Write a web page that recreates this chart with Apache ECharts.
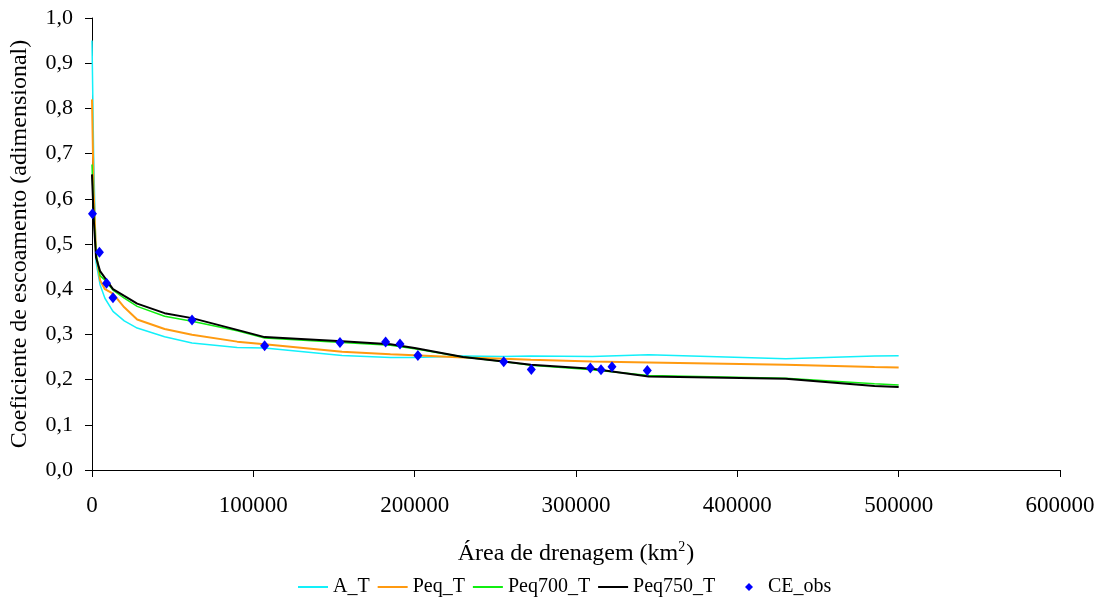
<!DOCTYPE html>
<html>
<head>
<meta charset="utf-8">
<script src="https://cdn.jsdelivr.net/npm/echarts@6/dist/echarts.min.js"></script>
<style>html,body{margin:0;padding:0;background:#fff}#c{width:1104px;height:599px}</style>
</head>
<body>
<div id="c"></div>
<script>
var xArea = [0, 1000, 2500, 5000, 8000, 13000, 20000, 28000, 45000, 62000, 90000, 107000, 155000, 185000, 200000, 230000, 255000, 272000, 310000, 345000, 430000, 485000, 500000];
var A_T =      [0.95, 0.70, 0.46, 0.41, 0.38, 0.351, 0.33, 0.314, 0.295, 0.281, 0.271, 0.270, 0.2535, 0.249, 0.249, 0.252, 0.251, 0.252, 0.251, 0.255, 0.246, 0.252, 0.253];
var Peq_T =    [0.82, 0.62, 0.48, 0.42, 0.40, 0.39, 0.36, 0.333, 0.312, 0.299, 0.284, 0.278, 0.2615, 0.256, 0.254, 0.249, 0.246, 0.244, 0.240, 0.238, 0.233, 0.228, 0.227];
var Peq700_T = [0.676, 0.57, 0.48, 0.43, 0.42, 0.398, 0.38, 0.362, 0.34, 0.329, 0.308, 0.292, 0.282, 0.276, 0.268, 0.250, 0.240, 0.232, 0.222, 0.209, 0.203, 0.191, 0.188];
var Peq750_T = [0.654, 0.56, 0.47, 0.44, 0.425, 0.40, 0.385, 0.368, 0.347, 0.336, 0.31, 0.294, 0.285, 0.278, 0.270, 0.250, 0.240, 0.233, 0.224, 0.207, 0.202, 0.186, 0.1835];
var obsArea = [300, 4600, 9000, 13000, 62000, 107000, 153700, 182000, 190900, 202000, 255200, 272300, 308900, 315500, 322300, 344200];
var CE_obs =  [0.567, 0.482, 0.413, 0.381, 0.332, 0.275, 0.282, 0.283, 0.279, 0.2535, 0.2396, 0.2226, 0.2255, 0.222, 0.2285, 0.2204];
var yTicks = ['0,0','0,1','0,2','0,3','0,4','0,5','0,6','0,7','0,8','0,9','1,0'];

function pairs(xs, ys){ return xs.map(function(x,i){ return [x, ys[i]]; }); }
var font = '"Liberation Serif", "Times New Roman", serif';
var chart = echarts.init(document.getElementById('c'));
function lineSeries(name, ys, color, w){
  return { name: name, type: 'line', data: pairs(xArea, ys), symbol: 'none', showSymbol: false,
    lineStyle: { color: color, width: w }, itemStyle: { color: color }, z: 2 };
}
chart.setOption({
  animation: false,
  textStyle: { fontFamily: font, color: '#000' },
  grid: { left: 92, right: 44, top: 18, bottom: 129 },
  legend: [
    { data: ['A_T','Peq_T','Peq700_T','Peq750_T'], icon: 'rect', left: 293, top: 572, itemWidth: 30, itemHeight: 2, itemGap: 8,
      textStyle: { fontFamily: font, fontSize: 20, color: '#000' } },
    { data: ['CE_obs'], left: 740, top: 572, itemWidth: 8, itemHeight: 8,
      textStyle: { fontFamily: font, fontSize: 20, color: '#000', padding: [0,0,0,10] } }
  ],
  xAxis: {
    type: 'value', min: 0, max: 600000, interval: 100000,
    name: '{n|Área de drenagem (km}{s|2}{n|)}', nameLocation: 'middle', nameGap: 70,
    nameTextStyle: { rich: {
      n: { fontFamily: font, fontSize: 24, color: '#000', lineHeight: 26, verticalAlign: 'bottom' },
      s: { fontFamily: font, fontSize: 14, color: '#000', lineHeight: 26, verticalAlign: 'top', padding: [0,1,12,0] } } },
    axisLine: { lineStyle: { color: '#000', width: 1 } },
    axisTick: { show: true, inside: false, length: 7, lineStyle: { color: '#000' } },
    axisLabel: { fontFamily: font, fontSize: 23, color: '#000', margin: 24,
      formatter: function(v){ return String(v); } },
    splitLine: { show: false }
  },
  yAxis: {
    type: 'value', min: 0, max: 1, interval: 0.1,
    name: 'Coeficiente de escoamento (adimensional)', nameLocation: 'middle', nameGap: 60,
    nameTextStyle: { fontFamily: font, fontSize: 24, color: '#000' },
    axisLine: { show: true, lineStyle: { color: '#000', width: 1 } },
    axisTick: { show: true, inside: false, length: 7, lineStyle: { color: '#000' } },
    axisLabel: { fontFamily: font, fontSize: 22, color: '#000', margin: 19,
      formatter: function(v){ return yTicks[Math.round(v*10)]; } },
    splitLine: { show: false }
  },
  series: [
    lineSeries('A_T', A_T, '#12F0FA', 1.5),
    lineSeries('Peq_T', Peq_T, '#FF9A10', 2),
    lineSeries('Peq700_T', Peq700_T, '#10EE10', 1.5),
    lineSeries('Peq750_T', Peq750_T, '#000000', 2),
    { name: 'CE_obs', type: 'scatter', data: pairs(obsArea, CE_obs), symbol: 'diamond', symbolSize: [9, 11],
      itemStyle: { color: '#0000FF', opacity: 1 }, z: 5 }
  ]
});
</script>
</body>
</html>
